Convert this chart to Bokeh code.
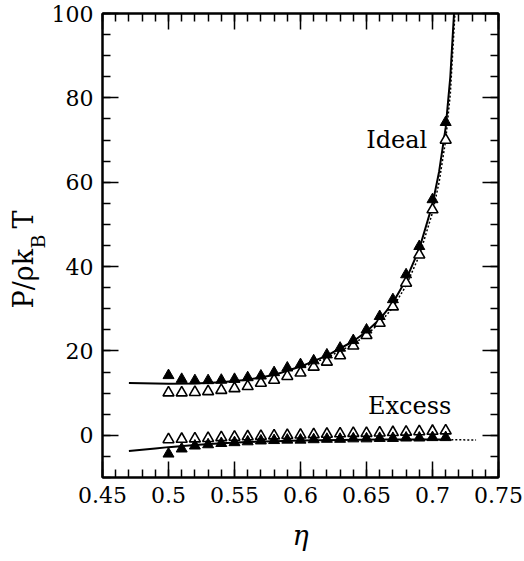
import math
from bokeh.plotting import figure
from bokeh.models import Range1d, FixedTicker, LinearAxis, Label
from bokeh.layouts import row
from bokeh.embed import file_html
from bokeh.resources import INLINE

# ---------------- data ----------------
eta_pts = [0.50, 0.51, 0.52, 0.53, 0.54, 0.55, 0.56, 0.57, 0.58, 0.59, 0.60,
           0.61, 0.62, 0.63, 0.64, 0.65, 0.66, 0.67, 0.68, 0.69, 0.70, 0.71]
ideal_filled = [14.2, 13.3, 13.0, 13.0, 13.1, 13.3, 13.7, 14.1, 14.9, 16.0, 16.8,
                17.7, 19.1, 20.7, 22.5, 25.0, 28.2, 32.2, 38.1, 44.8, 55.9, 74.2]
ideal_open = [10.1, 10.1, 10.2, 10.4, 10.7, 11.1, 11.6, 12.4, 13.1, 14.0, 14.8,
              16.2, 17.4, 18.9, 21.2, 23.7, 26.6, 30.5, 36.1, 42.8, 53.5, 70.0]
excess_filled = [-4.4, -3.2, -2.5, -2.2, -1.9, -1.7, -1.5, -1.3, -1.2, -1.1, -1.1,
                 -1.0, -0.9, -0.9, -0.8, -0.8, -0.7, -0.7, -0.6, -0.6, -0.5, -0.5]
excess_open = [-1.0, -0.9, -0.8, -0.7, -0.5, -0.4, -0.3, -0.2, -0.1, 0.0, 0.1,
               0.2, 0.3, 0.4, 0.5, 0.5, 0.6, 0.7, 0.8, 0.9, 1.0, 1.1]

ideal_line_x = [0.47, 0.50, 0.52, 0.54, 0.56, 0.58, 0.60, 0.62, 0.64, 0.65, 0.66,
                0.67, 0.68, 0.69, 0.70, 0.705, 0.71, 0.7135, 0.7163]
ideal_line_y = [12.4, 12.2, 12.3, 12.6, 13.2, 14.3, 16.3, 18.9, 22.3, 24.6, 27.5,
                31.4, 36.9, 44.2, 54.8, 62.5, 73.0, 85.0, 100.0]
ideal_dot_x = [0.60, 0.62, 0.64, 0.65, 0.66, 0.67, 0.68, 0.69, 0.70, 0.705, 0.71, 0.7135, 0.717]
ideal_dot_y = [16.0, 18.4, 21.6, 23.8, 26.6, 30.3, 35.5, 42.6, 52.8, 60.0, 70.0, 81.0, 100.0]

excess_line_x = [0.47, 0.49, 0.50, 0.52, 0.54, 0.56, 0.58, 0.60, 0.63, 0.66, 0.69, 0.711]
excess_line_y = [-3.7, -3.1, -2.8, -2.3, -1.9, -1.6, -1.4, -1.2, -1.1, -1.0, -1.0, -1.0]
excess_dot_x = [0.69, 0.71, 0.733]
excess_dot_y = [-1.0, -1.05, -1.1]

x_ticks = [0.45, 0.50, 0.55, 0.60, 0.65, 0.70, 0.75]
x_tick_labels = ["0.45", "0.5", "0.55", "0.6", "0.65", "0.7", "0.75"]
x_minor = [round(0.45 + 0.01 * i, 2) for i in range(31)]
y_ticks = [0, 20, 40, 60, 80, 100]
y_tick_labels = ["0", "20", "40", "60", "80", "100"]
y_minor = [-10 + 5 * i for i in range(23)]

# ---------------- layout (page pixels) ----------------
PAGE_W, PAGE_H = 524, 561
LABW = 48                              # narrow strip holding the y title
FL, FR, FT, FB = 101, 498, 13, 477     # frame edges on the page
XMIN, XMAX, YMIN, YMAX = 0.45, 0.75, -10, 100
SERIF = "DejaVu Serif"

p = figure(width=PAGE_W - LABW, height=PAGE_H, output_backend="svg",
           toolbar_location=None, title=None,
           x_range=Range1d(XMIN, XMAX), y_range=Range1d(YMIN, YMAX),
           min_border_left=FL - LABW, min_border_right=PAGE_W - FR,
           min_border_top=FT, min_border_bottom=PAGE_H - FB,
           x_axis_location=None, y_axis_location=None)
p.grid.visible = False
p.background_fill_color = "white"
p.border_fill_color = "white"
p.outline_line_color = "black"
p.outline_line_width = 2


def dx(px):
    return XMIN + (px - FL) * (XMAX - XMIN) / (FR - FL)


def dy(py):
    return YMAX - (py - FT) * (YMAX - YMIN) / (FB - FT)


def style_axis(ax, ticks, minor, labels, show):
    ax.ticker = FixedTicker(ticks=ticks, minor_ticks=minor)
    ax.axis_line_color = "black"
    ax.axis_line_width = 2
    ax.major_tick_in = 16
    ax.major_tick_out = 0
    ax.minor_tick_in = 8
    ax.minor_tick_out = 0
    ax.major_tick_line_width = 1.5
    ax.minor_tick_line_width = 1.5
    ax.major_tick_line_color = "black"
    ax.minor_tick_line_color = "black"
    if show:
        ax.major_label_overrides = {t: l for t, l in zip(ticks, labels)}
        ax.major_label_text_font = SERIF
        ax.major_label_text_font_size = "22px"
        ax.major_label_text_color = "black"
        ax.major_label_standoff = 9
    else:
        ax.major_label_overrides = {t: "" for t in ticks}
        ax.major_label_text_font_size = "1px"
        ax.major_label_standoff = 0


xb = LinearAxis()
style_axis(xb, x_ticks, x_minor, x_tick_labels, True)
xb.axis_label = "η"
xb.axis_label_text_font = SERIF
xb.axis_label_text_font_style = "italic"
xb.axis_label_text_font_size = "27px"
xb.axis_label_text_color = "black"
xb.axis_label_standoff = 14
p.add_layout(xb, "below")

xa = LinearAxis()
style_axis(xa, x_ticks, x_minor, x_tick_labels, False)
p.add_layout(xa, "above")

yl = LinearAxis()
style_axis(yl, y_ticks, y_minor, y_tick_labels, True)
p.add_layout(yl, "left")

yr = LinearAxis()
style_axis(yr, y_ticks, y_minor, y_tick_labels, False)
p.add_layout(yr, "right")

# ---------------- lines ----------------
p.line(ideal_line_x, ideal_line_y, line_color="black", line_width=2)
p.line(ideal_dot_x, ideal_dot_y, line_color="black", line_width=1.5, line_dash="2 2")
p.line(excess_line_x, excess_line_y, line_color="black", line_width=2)
p.line(excess_dot_x, excess_dot_y, line_color="black", line_width=1.5, line_dash="2 2")

# ---------------- markers ----------------
for ys in (ideal_open, excess_open):
    p.scatter(eta_pts, ys, marker="triangle", size=11, fill_color="white",
              line_color="black", line_width=1.6)
for ys in (ideal_filled, excess_filled):
    p.scatter(eta_pts, ys, marker="triangle", size=11, fill_color="black",
              line_color="black", line_width=1)

# ---------------- in-plot texts ----------------
p.add_layout(Label(x=dx(396), y=dy(139), text="Ideal", text_font=SERIF,
                   text_font_size="24px", text_align="center",
                   text_baseline="middle", text_color="black"))
p.add_layout(Label(x=dx(409), y=dy(405), text="Excess", text_font=SERIF,
                   text_font_size="24px", text_align="center",
                   text_baseline="middle", text_color="black"))

# ---------------- y title strip:  P/ρk_B T ----------------
# the row aligns this strip's frame with the main frame (page rows FT..FB),
# so its y range is given in page rows counted from the bottom
lab = figure(width=LABW, height=PAGE_H, output_backend="svg", toolbar_location=None,
             title=None, x_range=Range1d(0, LABW),
             y_range=Range1d(PAGE_H - FB, PAGE_H - FT),
             min_border_left=0, min_border_right=0, min_border_top=FT,
             min_border_bottom=PAGE_H - FB, x_axis_location=None, y_axis_location=None)
lab.grid.visible = False
lab.outline_line_color = None
lab.background_fill_color = "white"
lab.border_fill_color = "white"
# (text, centre x on page, start y on page, size)
for txt, cx, sy, fs in [("P/ρk", 23, 308, "27px"), ("B", 37, 248, "19px"), ("T", 23, 228, "27px")]:
    lab.add_layout(Label(x=cx, y=PAGE_H - sy, text=txt, text_font=SERIF,
                         text_font_size=fs, angle=math.pi / 2, text_align="left",
                         text_baseline="middle", text_color="black"))

layout = row(lab, p)
open("out.html", "w").write(file_html(layout, INLINE))
